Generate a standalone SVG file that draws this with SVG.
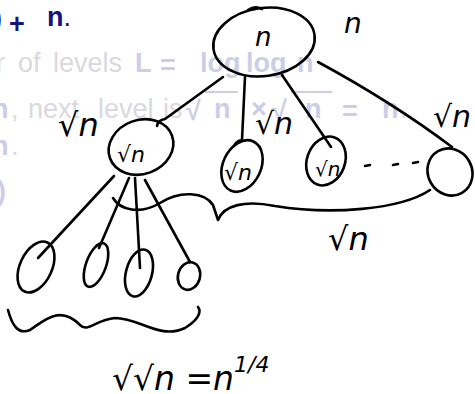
<svg xmlns="http://www.w3.org/2000/svg" width="475" height="394" viewBox="0 0 475 394">
<style>
.bg{font-family:"Liberation Sans",sans-serif;font-size:27px;font-weight:normal;fill:#d9d9de}
.bgb{font-family:"Liberation Sans",sans-serif;font-size:27px;font-weight:bold;fill:#cdcde8}
.dk{font-family:"Liberation Sans",sans-serif;font-size:27px;font-weight:bold;fill:#14147a}
.ink{fill:none;stroke:#000;stroke-width:2.6;stroke-linecap:round;stroke-linejoin:round}
.hw{font-family:"DejaVu Sans",sans-serif;font-style:italic;fill:#000}
.vin{stroke:#cdcde8;stroke-width:2.2}
</style>
<rect width="475" height="394" fill="#fff"/>
<g id="slide-text">
<text class="dk" x="-7" y="27">)</text>
<text class="dk" x="9" y="33" font-family="DejaVu Sans" font-weight="normal" font-size="37">+</text>
<text class="dk" x="47" y="26">n<tspan font-weight="normal">.</tspan></text>
<text class="bg" x="-4" y="72">r</text>
<text class="bg" x="18" y="72">of</text>
<text class="bg" x="53" y="72">levels</text>
<text class="bgb" x="135" y="72">L</text>
<text class="bgb" x="160" y="74" font-family="DejaVu Sans" font-weight="normal" font-size="32">=</text>
<text class="bgb" x="200" y="72">log</text>
<text class="bgb" x="246" y="72">log</text>
<text class="bgb" x="297" y="72">n</text>
<text class="bgb" x="-8" y="118">n</text>
<text class="bg" x="11" y="118">,</text>
<text class="bg" x="28" y="118">next</text>
<text class="bg" x="98" y="118">level</text>
<text class="bg" x="163" y="118">is</text>
<text class="bgb" x="186" y="120" font-weight="normal" font-size="30" font-family="DejaVu Sans">√</text>
<line class="vin" x1="205" y1="92" x2="238" y2="92"/>
<text class="bgb" x="214" y="118">n</text>
<text class="bgb" x="251" y="118" font-family="DejaVu Sans" font-weight="normal" font-size="28">×</text>
<text class="bgb" x="272" y="120" font-weight="normal" font-size="30" font-family="DejaVu Sans">√</text>
<line class="vin" x1="291" y1="92" x2="332" y2="92"/>
<text class="bgb" x="305" y="118">n</text>
<text class="bgb" x="342" y="120" font-family="DejaVu Sans" font-weight="normal" font-size="32">=</text>
<text class="bgb" x="382" y="118">n</text>
<text class="bg" x="400" y="118">.</text>
<text class="bgb" x="-8" y="155">n</text>
<text class="bg" x="11" y="155">.</text>
<text class="bgb" x="-3" y="200" font-size="30">)</text>
</g>
<g id="connectors">
<path class="ink" d="M223,77 L165,119 Q158,120 157,126"/>
<path class="ink" d="M245,77 L242,140 Q236,141 234,146"/>
<path class="ink" d="M282,75 L331,147"/>
<path class="ink" d="M318,62 Q392,102 452,147"/>
<path class="ink" d="M114,176 L38,258"/>
<path class="ink" d="M129,178 L99,248"/>
<path class="ink" d="M135,178 L140,268"/>
<path class="ink" d="M145,180 L190,262"/>
</g>
<g id="root">
<ellipse class="ink" cx="264" cy="42" rx="51" ry="34" transform="rotate(-8 264 42)"/>
<path class="ink" d="M248,10 Q255,5 262,9"/>
<text class="hw" x="255" y="46" font-size="26">n</text>
</g>
<g id="child1">
<ellipse class="ink" cx="141" cy="147" rx="33" ry="27" transform="rotate(-20 141 147)"/>
<text class="hw" x="117" y="162" font-size="22">√n</text>
</g>
<g id="child2">
<ellipse class="ink" cx="242" cy="166" rx="19" ry="27" transform="rotate(25 242 166)"/>
<text class="hw" x="224" y="180" font-size="22">√n</text>
</g>
<g id="child3">
<ellipse class="ink" cx="326" cy="161" rx="19" ry="25" transform="rotate(20 326 161)"/>
<text class="hw" x="315" y="176" font-size="20">√n</text>
</g>
<g id="child4">
<ellipse class="ink" cx="450" cy="172" rx="22" ry="24" transform="rotate(-30 450 172)"/>
</g>
<g id="dots">
<path class="ink" d="M365,166 L370,165 M393,165 L398,164 M413,163 L418,162"/>
</g>
<g id="leaf1"><ellipse class="ink" cx="36" cy="267" rx="16" ry="27" transform="rotate(25 36 267)"/></g>
<g id="leaf2"><ellipse class="ink" cx="96" cy="265" rx="10" ry="23" transform="rotate(20 96 265)"/></g>
<g id="leaf3"><ellipse class="ink" cx="139" cy="273" rx="13" ry="24" transform="rotate(15 139 273)"/></g>
<g id="leaf4"><ellipse class="ink" cx="189" cy="276" rx="11" ry="14" transform="rotate(15 189 276)"/></g>
<g id="braces">
<path class="ink" d="M113,198 C120,210 140,215 160,203 C180,190 205,192 213,205 L218,220 C224,205 245,200 275,206 C330,215 400,210 430,190"/>
<path class="ink" d="M8,310 C12,325 18,335 30,330 C45,320 60,305 80,325 C88,333 95,320 115,318 C140,318 160,340 185,328 C198,320 202,312 198,307"/>
</g>
<g id="labels">
<text class="hw" x="344" y="33" font-size="28">n</text>
<text class="hw" x="58" y="136" font-size="32">√n</text>
<text class="hw" x="255" y="134" font-size="30">√n</text>
<text class="hw" x="433" y="127" font-size="30">√n</text>
<text class="hw" x="328" y="250" font-size="32">√n</text>
<text class="hw" x="112" y="390" font-size="33">√√n =n<tspan font-size="22" dy="-18">1/4</tspan></text>
</g>
</svg>
